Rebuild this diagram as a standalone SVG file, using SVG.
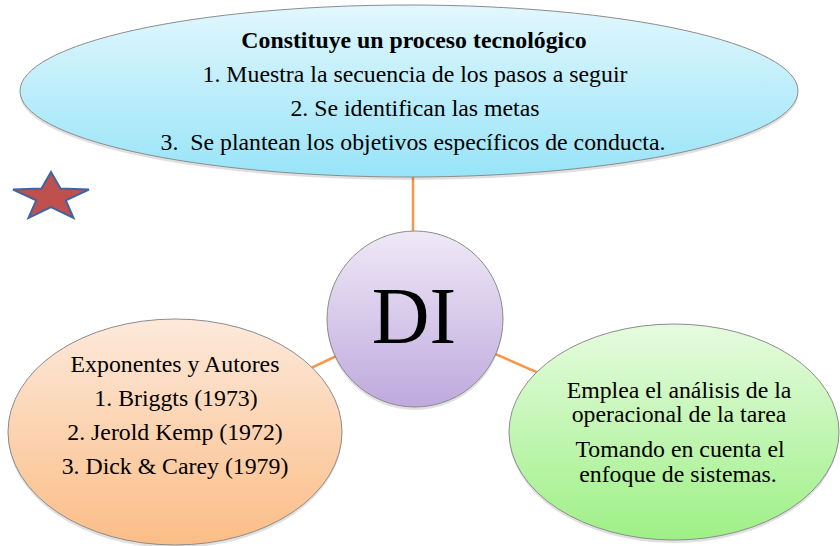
<svg xmlns="http://www.w3.org/2000/svg" width="840" height="546" viewBox="0 0 840 546">
<style>
.edge{stroke:#F79646;stroke-width:2.5;fill:none}
.node{stroke:#8c8c8c;stroke-width:1}
.shadow{fill:#000;fill-opacity:0.12}
.lbl{font-family:"Liberation Serif",serif;font-size:23.8px;text-anchor:middle;fill:#000}
</style>
<defs>
<linearGradient id="gBlue" x1="0" y1="0" x2="0" y2="1"><stop offset="0" stop-color="#e2f7fd"/><stop offset="1" stop-color="#98e4f8"/></linearGradient>
<linearGradient id="gPurple" x1="0" y1="0" x2="0" y2="1"><stop offset="0" stop-color="#efe9f6"/><stop offset="1" stop-color="#bfa9de"/></linearGradient>
<linearGradient id="gOrange" x1="0" y1="0" x2="0" y2="1"><stop offset="0" stop-color="#fde9db"/><stop offset="1" stop-color="#fbbd86"/></linearGradient>
<linearGradient id="gGreen" x1="0" y1="0" x2="0" y2="1"><stop offset="0" stop-color="#e6fbdf"/><stop offset="1" stop-color="#9ef086"/></linearGradient>
</defs>
<rect width="840" height="546" fill="#fff"/>
<g id="connectors">
<line class="edge" x1="413" y1="170" x2="413" y2="240"/>
<line class="edge" x1="415" y1="319" x2="175" y2="432"/>
<line class="edge" x1="415" y1="319" x2="674" y2="432"/>
</g>
<g id="star">
<polygon points="51,172 60.5,188.6 89,189.6 65.8,200.3 73.5,218 51,207 28.5,218 36.2,200.3 13,189.6 41.5,188.6" fill="#C0504D" stroke="#3F64A6" stroke-width="2" stroke-linejoin="miter"/>
</g>
<g id="top">
<ellipse class="shadow" cx="409" cy="94" rx="389" ry="86"/>
<ellipse class="node" cx="409" cy="91" rx="389" ry="86" fill="url(#gBlue)"/>
<text class="lbl" font-weight="bold" x="414" y="48">Constituye un proceso tecnol&#243;gico</text>
<text class="lbl" x="415" y="82">1. Muestra la secuencia de los pasos a seguir</text>
<text class="lbl" x="415" y="116">2. Se identifican las metas</text>
<text class="lbl" x="413" y="150">3.&#160; Se plantean los objetivos espec&#237;ficos de conducta.</text>
</g>
<g id="di">
<circle class="shadow" cx="415" cy="322" r="88"/>
<circle class="node" cx="415" cy="319" r="88" fill="url(#gPurple)"/>
<text class="lbl" style="font-size:80px" x="414" y="343">DI</text>
</g>
<g id="left">
<ellipse class="shadow" cx="175" cy="435" rx="167" ry="113"/>
<ellipse class="node" cx="175" cy="432" rx="167" ry="113" fill="url(#gOrange)"/>
<text class="lbl" x="175" y="372">Exponentes y Autores</text>
<text class="lbl" x="176" y="406">1. Briggts (1973)</text>
<text class="lbl" x="175" y="440">2. Jerold Kemp (1972)</text>
<text class="lbl" x="175" y="474">3. Dick &amp; Carey (1979)</text>
</g>
<g id="right">
<ellipse class="shadow" cx="674" cy="435" rx="165" ry="108"/>
<ellipse class="node" cx="674" cy="432" rx="165" ry="108" fill="url(#gGreen)"/>
<text class="lbl" x="679" y="398">Emplea el an&#225;lisis de la</text>
<text class="lbl" x="679" y="422">operacional de la tarea</text>
<text class="lbl" x="680" y="457">Tomando en cuenta el</text>
<text class="lbl" x="678" y="482">enfoque de sistemas.</text>
</g>
</svg>
